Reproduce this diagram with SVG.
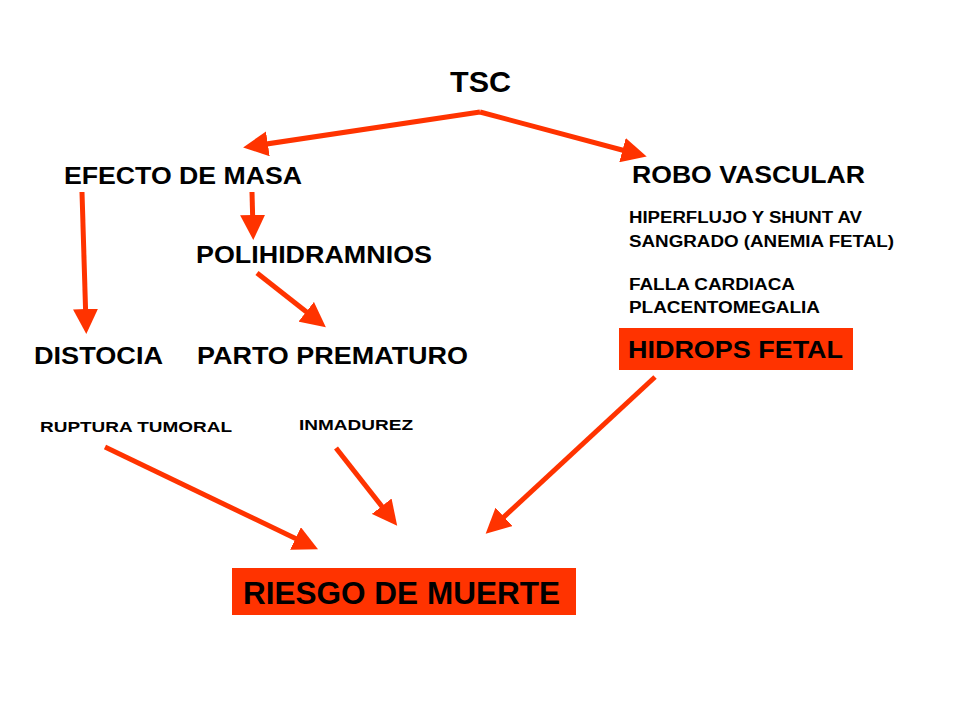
<svg xmlns="http://www.w3.org/2000/svg" width="960" height="720" viewBox="0 0 960 720">
<style>
text{font-family:"Liberation Sans",Arial,sans-serif;font-weight:bold;fill:#000}
.l{font-size:24px}.s{font-size:16px}.xs{font-size:15px}
.c line{stroke:#FF3300;stroke-width:5;marker-end:url(#a)}
.box{fill:#FF3300}
</style>
<defs><marker id="a" markerWidth="5" markerHeight="5" refX="3" refY="2.5" orient="auto" markerUnits="strokeWidth"><path d="M0,0L5,2.5L0,5z" fill="#FF3300"/></marker></defs>
<rect width="960" height="720" fill="#fff"/>
<g class="c">
<line x1="480" y1="112" x2="253" y2="146"/>
<line x1="480" y1="112" x2="637" y2="154"/>
<line x1="82" y1="192" x2="86" y2="324"/>
<line x1="252" y1="192" x2="253" y2="230"/>
<line x1="257" y1="273" x2="318" y2="321"/>
<line x1="105" y1="447" x2="309" y2="545"/>
<line x1="336" y1="448" x2="391" y2="518"/>
<line x1="655" y1="377" x2="493" y2="527"/>
</g>
<g id="tsc"><text x="450" y="92" font-size="30" textLength="61" lengthAdjust="spacingAndGlyphs">TSC</text></g>
<g id="masa"><text class="l" x="64" y="184" textLength="238" lengthAdjust="spacingAndGlyphs">EFECTO DE MASA</text></g>
<g id="robo"><text class="l" x="632" y="183" textLength="233" lengthAdjust="spacingAndGlyphs">ROBO VASCULAR</text></g>
<g id="poli"><text class="l" x="196" y="263" textLength="236" lengthAdjust="spacingAndGlyphs">POLIHIDRAMNIOS</text></g>
<g id="dist"><text class="l" x="34" y="364" textLength="129" lengthAdjust="spacingAndGlyphs">DISTOCIA</text></g>
<g id="parto"><text class="l" x="197" y="364" textLength="271" lengthAdjust="spacingAndGlyphs">PARTO PREMATURO</text></g>
<g id="info"><text class="s" x="629" y="223" textLength="233" lengthAdjust="spacingAndGlyphs">HIPERFLUJO Y SHUNT AV</text><text class="s" x="629" y="247" textLength="265" lengthAdjust="spacingAndGlyphs">SANGRADO (ANEMIA FETAL)</text><text class="s" x="629" y="290" textLength="166" lengthAdjust="spacingAndGlyphs">FALLA CARDIACA</text><text class="s" x="629" y="313" textLength="191" lengthAdjust="spacingAndGlyphs">PLACENTOMEGALIA</text></g>
<g id="hidrops"><rect class="box" x="619" y="328" width="234" height="42"/><text x="628" y="358" font-size="23" textLength="215" lengthAdjust="spacingAndGlyphs">HIDROPS FETAL</text></g>
<g id="ruptura"><text class="xs" x="40" y="432" textLength="192" lengthAdjust="spacingAndGlyphs">RUPTURA TUMORAL</text></g>
<g id="inmad"><text class="xs" x="299" y="430" textLength="114" lengthAdjust="spacingAndGlyphs">INMADUREZ</text></g>
<g id="riesgo"><rect class="box" x="232" y="568" width="344" height="47"/><text x="243" y="604" font-size="31" textLength="317" lengthAdjust="spacingAndGlyphs">RIESGO DE MUERTE</text></g>
</svg>
